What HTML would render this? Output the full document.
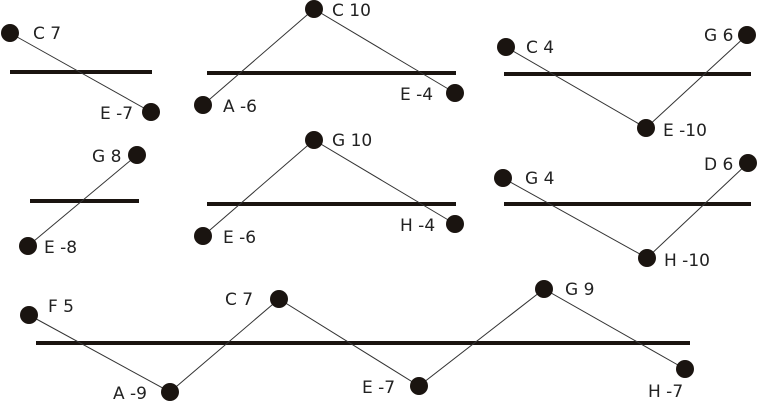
<!DOCTYPE html>
<html><head><meta charset="utf-8"><style>
html,body{margin:0;padding:0;background:#fff;}
svg{display:block;}
text{font-family:"DejaVu Sans","Liberation Sans",sans-serif;font-size:17px;fill:#222;}
</style></head><body>
<svg width="765" height="401" viewBox="0 0 765 401" xmlns="http://www.w3.org/2000/svg">
<g stroke="#1a1410" stroke-width="4">
<line x1="10" y1="72" x2="152" y2="72"/>
<line x1="207" y1="73" x2="456" y2="73"/>
<line x1="504" y1="74" x2="751" y2="74"/>
<line x1="30" y1="201" x2="139" y2="201"/>
<line x1="207" y1="204" x2="456" y2="204"/>
<line x1="504" y1="204" x2="751" y2="204"/>
<line x1="36" y1="343" x2="690" y2="343"/>
</g>
<g stroke="#333" stroke-width="1" fill="none">
<polyline points="10,33 151,112"/>
<polyline points="203,105 314,9 455,93"/>
<polyline points="506,47 646,128 747,35"/>
<polyline points="137,155 28,246"/>
<polyline points="203,236 314,140 455,224"/>
<polyline points="503,178 647,258 748,163"/>
<polyline points="29,315 170,392 279,299 419,386 544,289 685,369"/>
</g>
<g fill="#1a1410">
<circle cx="10" cy="33" r="9"/><circle cx="151" cy="112" r="9"/>
<circle cx="203" cy="105" r="9"/><circle cx="314" cy="9" r="9"/><circle cx="455" cy="93" r="9"/>
<circle cx="506" cy="47" r="9"/><circle cx="646" cy="128" r="9"/><circle cx="747" cy="35" r="9"/>
<circle cx="137" cy="155" r="9"/><circle cx="28" cy="246" r="9"/>
<circle cx="203" cy="236" r="9"/><circle cx="314" cy="140" r="9"/><circle cx="455" cy="224" r="9"/>
<circle cx="503" cy="178" r="9"/><circle cx="647" cy="258" r="9"/><circle cx="748" cy="163" r="9"/>
<circle cx="29" cy="315" r="9"/><circle cx="170" cy="392" r="9"/><circle cx="279" cy="299" r="9"/>
<circle cx="419" cy="386" r="9"/><circle cx="544" cy="289" r="9"/><circle cx="685" cy="369" r="9"/>
</g>
<text x="33" y="39">C 7</text>
<text x="100" y="119">E -7</text>
<text x="332" y="16">C 10</text>
<text x="223" y="112">A -6</text>
<text x="400" y="100">E -4</text>
<text x="526" y="53">C 4</text>
<text x="663" y="136">E -10</text>
<text x="704" y="41">G 6</text>
<text x="92" y="162">G 8</text>
<text x="44" y="253">E -8</text>
<text x="332" y="146">G 10</text>
<text x="223" y="243">E -6</text>
<text x="400" y="231">H -4</text>
<text x="525" y="184">G 4</text>
<text x="664" y="266">H -10</text>
<text x="704" y="170">D 6</text>
<text x="48" y="312">F 5</text>
<text x="113" y="399">A -9</text>
<text x="225" y="305">C 7</text>
<text x="362" y="393">E -7</text>
<text x="565" y="295">G 9</text>
<text x="648" y="397">H -7</text>
</svg>
</body></html>
